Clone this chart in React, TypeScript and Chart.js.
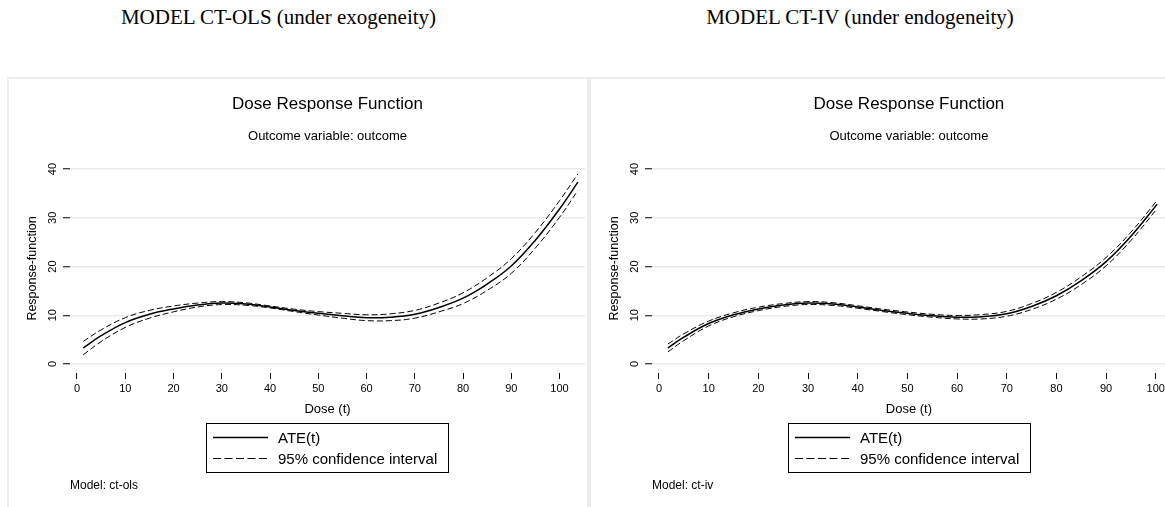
import React, { useEffect, useRef } from 'react';
import { Chart, registerables } from 'chart.js';

Chart.register(...registerables);

// ---------- data ----------
const panelTitles = ['MODEL CT-OLS (under exogeneity)', 'MODEL CT-IV (under endogeneity)'];
const chartTitle = 'Dose Response Function';
const chartSubtitle = 'Outcome variable: outcome';
const xTitle = 'Dose (t)';
const yTitle = 'Response-function';
const legendLabels = ['ATE(t)', '95% confidence interval'];
const modelNotes = ['Model: ct-ols', 'Model: ct-iv'];

const xTicks = [0, 10, 20, 30, 40, 50, 60, 70, 80, 90, 100];
const yTicks = [0, 10, 20, 30, 40];

// CT-OLS
const doseOls = [1.3, 5, 10, 15, 20, 25, 30, 35, 40, 45, 50, 55, 60, 65, 70, 75, 80, 85, 90, 95, 100, 103.8];
const ateOls = [3.3, 5.8, 8.5, 10.2, 11.3, 12.1, 12.5, 12.3, 11.7, 11.0, 10.4, 9.9, 9.5, 9.6, 10.2, 11.6, 13.5, 16.4, 20.1, 25.4, 31.8, 37.3];
const upperOls = [4.65, 7.0, 9.5, 11.0, 11.9, 12.5, 12.8, 12.55, 11.9, 11.25, 10.75, 10.4, 10.1, 10.3, 11.0, 12.5, 14.6, 17.7, 21.6, 27.0, 33.5, 39.0];
const lowerOls = [1.9, 4.6, 7.5, 9.4, 10.7, 11.7, 12.2, 12.05, 11.5, 10.75, 10.05, 9.4, 8.9, 8.9, 9.4, 10.7, 12.4, 15.1, 18.6, 23.8, 30.1, 35.6];

// CT-IV
const doseIv = [1.8, 5, 10, 15, 20, 25, 30, 35, 40, 45, 50, 55, 60, 65, 70, 75, 80, 85, 90, 95, 100.3];
const ateIv = [3.3, 5.5, 8.3, 10.1, 11.3, 12.1, 12.5, 12.3, 11.7, 11.0, 10.4, 9.9, 9.6, 9.7, 10.3, 11.8, 14.0, 17.1, 21.0, 26.2, 32.8];
const upperIv = [4.1, 6.2, 8.8, 10.5, 11.65, 12.4, 12.8, 12.58, 11.95, 11.25, 10.68, 10.2, 9.95, 10.15, 10.8, 12.4, 14.7, 17.9, 21.85, 27.05, 33.6];
const lowerIv = [2.5, 4.8, 7.8, 9.7, 10.95, 11.8, 12.2, 12.02, 11.45, 10.75, 10.12, 9.6, 9.25, 9.25, 9.8, 11.2, 13.3, 16.3, 20.15, 25.35, 31.9];

const FONT = '"Liberation Sans", Arial, Helvetica, sans-serif';
const DASH = [6, 3];
const LEGEND_DASH = [8, 3.5];

const notesPlugin = {
  id: 'panelNotes',
  afterDraw(chart: any, _args: any, opts: any) {
    const { ctx } = chart;
    const ds = chart.data.datasets;
    ctx.save();
    ctx.strokeStyle = '#000';
    ctx.lineWidth = 1;
    ctx.setLineDash([]);
    ctx.strokeRect(opts.boxX + 0.5, opts.boxY + 0.5, opts.boxW, opts.boxH);
    const rows = [
      { y: opts.boxY + 15, ds: ds[0], dash: [] as number[], text: legendLabels[0] },
      { y: opts.boxY + 36, ds: ds[1], dash: LEGEND_DASH, text: legendLabels[1] },
    ];
    ctx.font = `15px ${FONT}`;
    ctx.textBaseline = 'middle';
    ctx.textAlign = 'left';
    ctx.fillStyle = '#000';
    rows.forEach((r) => {
      ctx.beginPath();
      ctx.lineWidth = r.ds.borderWidth;
      ctx.strokeStyle = r.ds.borderColor;
      ctx.setLineDash(r.dash);
      ctx.moveTo(opts.boxX + 7, r.y - 0.5);
      ctx.lineTo(opts.boxX + 62, r.y - 0.5);
      ctx.stroke();
      ctx.setLineDash([]);
      ctx.fillText(r.text, opts.boxX + 72, r.y + 0.5);
    });
    ctx.font = `12px ${FONT}`;
    ctx.fillText(opts.note, opts.noteX, opts.noteY);
    ctx.restore();
  },
};

type PanelProps = {
  left: number;
  dose: number[];
  ate: number[];
  upper: number[];
  lower: number[];
  xMin: number;
  xMax: number;
  rightPad: number;
  note: string;
};

function Panel({ left, dose, ate, upper, lower, xMin, xMax, rightPad, note }: PanelProps) {
  const ref = useRef<HTMLCanvasElement>(null);
  useEffect(() => {
    const canvas = ref.current as HTMLCanvasElement;
    const line = (vals: number[]) => dose.map((x, i) => ({ x, y: vals[i] }));
    const common = { pointRadius: 0, fill: false, tension: 0.4 };
    const chart = new Chart(canvas, {
      type: 'line',
      data: {
        datasets: [
          { label: legendLabels[0], data: line(ate), borderColor: '#000', borderWidth: 1.5, ...common },
          { label: legendLabels[1], data: line(upper), borderColor: '#000', borderWidth: 1, borderDash: DASH, ...common },
          { label: legendLabels[1], data: line(lower), borderColor: '#000', borderWidth: 1, borderDash: DASH, ...common },
        ],
      } as any,
      options: {
        responsive: false,
        maintainAspectRatio: false,
        animation: false,
        events: [],
        font: { family: FONT },
        layout: { padding: { left: 0, right: rightPad, top: 0, bottom: 84 } },
        scales: {
          x: {
            type: 'linear',
            min: xMin,
            max: xMax,
            afterFit: (s: any) => {
              s.height = 50;
            },
            afterBuildTicks: (s: any) => {
              s.ticks = xTicks.map((v) => ({ value: v }));
            },
            ticks: {
              maxRotation: 0,
              minRotation: 0,
              autoSkip: false,
              padding: 3,
              color: '#000',
              font: { size: 11, family: FONT },
            },
            grid: {
              drawOnChartArea: false,
              drawTicks: true,
              tickLength: 6,
              tickColor: '#000',
              tickWidth: 1,
            },
            border: { display: false },
            title: {
              display: true,
              text: xTitle,
              color: '#000',
              font: { size: 13, family: FONT },
              padding: { top: 0, bottom: 6 },
            },
          },
          y: {
            type: 'linear',
            min: -1.846,
            max: 41.03,
            afterFit: (s: any) => {
              s.width = 62;
            },
            afterBuildTicks: (s: any) => {
              s.ticks = yTicks.map((v) => ({ value: v }));
            },
            ticks: {
              minRotation: 90,
              maxRotation: 90,
              crossAlign: 'center',
              padding: 4,
              color: '#000',
              font: { size: 11, family: FONT },
            },
            grid: {
              color: '#e9e9e9',
              lineWidth: 1.5,
              drawTicks: true,
              tickLength: 7,
              tickColor: '#000',
              tickWidth: 1,
            },
            border: { display: false },
            title: {
              display: true,
              text: yTitle,
              color: '#000',
              font: { size: 12.5, family: FONT },
              padding: { top: 17, bottom: 0 },
            },
          },
        },
        plugins: {
          legend: { display: false },
          tooltip: { enabled: false },
          title: {
            display: true,
            text: chartTitle,
            fullSize: false,
            color: '#000',
            font: { size: 17, weight: 'normal', family: FONT },
            padding: { top: 16, bottom: 0 },
          },
          subtitle: {
            display: true,
            text: chartSubtitle,
            fullSize: false,
            color: '#000',
            font: { size: 13, weight: 'normal', family: FONT },
            padding: { top: 14.3, bottom: 19.7 },
          },
          panelNotes: {
            boxX: 198,
            boxY: 345,
            boxW: 242,
            boxH: 49,
            note,
            noteX: 62,
            noteY: 408,
          },
        } as any,
      } as any,
      plugins: [notesPlugin as any],
    });
    return () => chart.destroy();
  }, []);
  return (
    <canvas
      ref={ref}
      width={578}
      height={429}
      style={{ position: 'absolute', left, top: 78, width: 578, height: 429 }}
    />
  );
}

export default function App() {
  const titleStyle = (center: number): React.CSSProperties => ({
    position: 'absolute',
    left: center - 300,
    width: 600,
    top: 6.5,
    textAlign: 'center',
    fontFamily: '"Liberation Serif", "Times New Roman", serif',
    fontSize: 21,
    lineHeight: '21px',
    color: '#000',
    whiteSpace: 'nowrap',
  });
  const panelStyle = (left: number, width: number): React.CSSProperties => ({
    position: 'absolute',
    left,
    top: 77,
    width,
    height: 460,
    boxSizing: 'border-box',
    border: '2px solid #ececec',
  });
  return (
    <div
      style={{
        position: 'fixed',
        left: 0,
        top: 0,
        width: 1165,
        height: 507,
        overflow: 'hidden',
        background: '#fff',
      }}
    >
      <div style={titleStyle(278.5)}>{panelTitles[0]}</div>
      <div style={titleStyle(860)}>{panelTitles[1]}</div>
      <div style={panelStyle(7, 582)} />
      <div style={panelStyle(589, 620)} />
      <Panel
        left={8}
        dose={doseOls}
        ate={ateOls}
        upper={upperOls}
        lower={lowerOls}
        xMin={-1.45}
        xMax={105.28}
        rightPad={1}
        note={modelNotes[0]}
      />
      <Panel
        left={590}
        dose={doseIv}
        ate={ateIv}
        upper={upperIv}
        lower={lowerIv}
        xMin={-1.408}
        xMax={102.01}
        rightPad={2}
        note={modelNotes[1]}
      />
    </div>
  );
}
